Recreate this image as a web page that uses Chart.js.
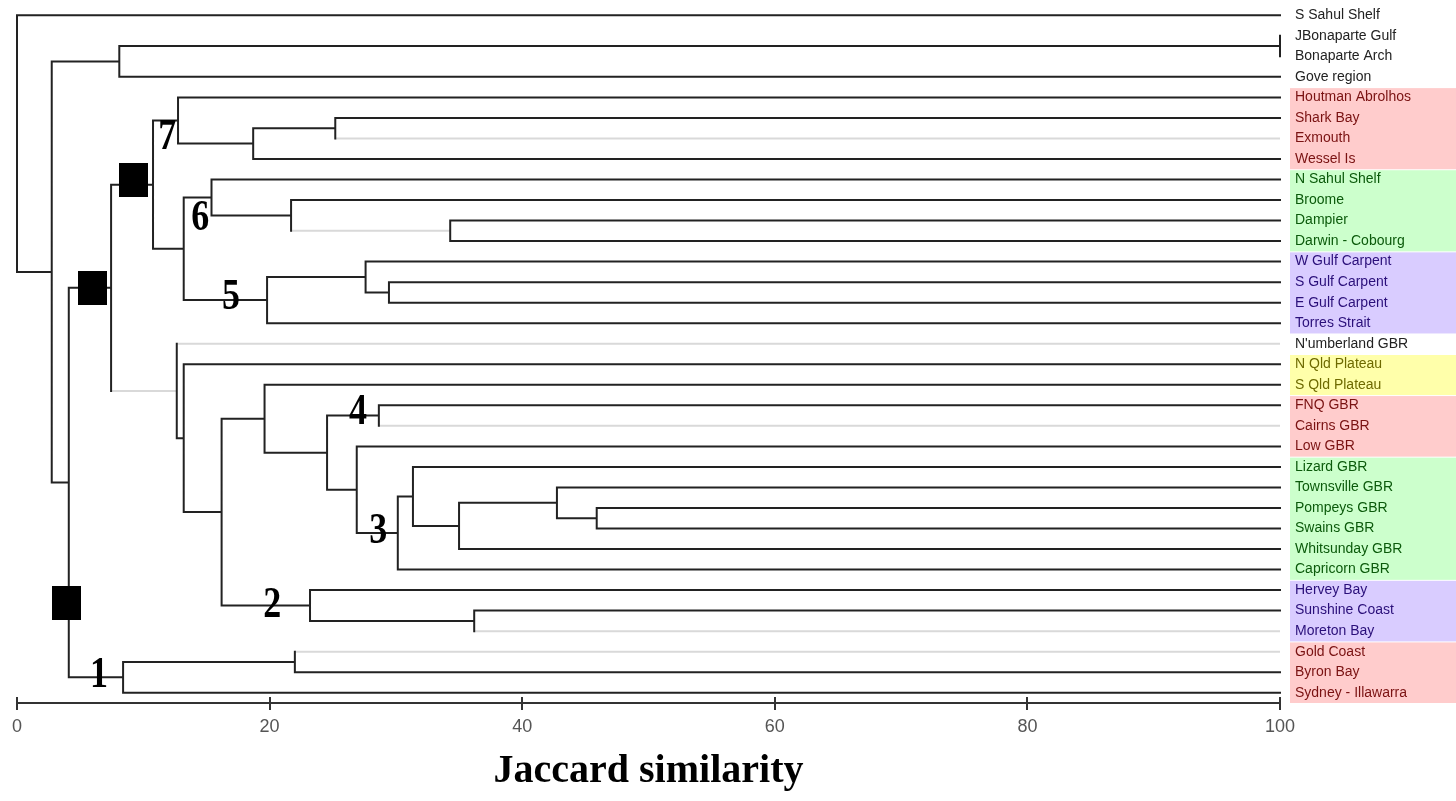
<!DOCTYPE html>
<html><head><meta charset="utf-8">
<script src="https://cdn.jsdelivr.net/npm/chart.js@4.4.1/dist/chart.umd.min.js"></script>
<style>html,body{margin:0;padding:0;background:#fff}#wrap{width:1456px;height:801px;position:relative}</style>
</head><body><div id="wrap"><canvas id="c"></canvas></div>
<script>
// ---------- DATA ----------
const leaves = ['S Sahul Shelf','JBonaparte Gulf','Bonaparte Arch','Gove region','Houtman Abrolhos','Shark Bay','Exmouth','Wessel Is','N Sahul Shelf','Broome','Dampier','Darwin - Cobourg','W Gulf Carpent','S Gulf Carpent','E Gulf Carpent','Torres Strait',"N'umberland GBR",'N Qld Plateau','S Qld Plateau','FNQ GBR','Cairns GBR','Low GBR','Lizard GBR','Townsville GBR','Pompeys GBR','Swains GBR','Whitsunday GBR','Capricorn GBR','Hervey Bay','Sunshine Coast','Moreton Bay','Gold Coast','Byron Bay','Sydney - Illawarra'];
const leafGroups = ['none','none','none','none','red','red','red','red','green','green','green','green','blue','blue','blue','blue','none','yellow','yellow','red','red','red','green','green','green','green','green','green','blue','blue','blue','red','red','red'];
// merges: [child A, child B, Jaccard similarity]; '#k' refers to merge k
const merges = [
 ['JBonaparte Gulf','Bonaparte Arch',100],
 ['#0','Gove region',8.1],
 ['Shark Bay','Exmouth',25.2],
 ['#2','Wessel Is',18.7],
 ['Houtman Abrolhos','#3',12.75],
 ['Dampier','Darwin - Cobourg',34.3],
 ['Broome','#5',21.7],
 ['N Sahul Shelf','#6',15.4],
 ['S Gulf Carpent','E Gulf Carpent',29.45],
 ['W Gulf Carpent','#8',27.6],
 ['#9','Torres Strait',19.8],
 ['#7','#10',13.2],
 ['#4','#11',10.77],
 ['FNQ GBR','Cairns GBR',28.65],
 ['Pompeys GBR','Swains GBR',45.9],
 ['Townsville GBR','#14',42.75],
 ['#15','Whitsunday GBR',35.0],
 ['Lizard GBR','#16',31.35],
 ['#17','Capricorn GBR',30.15],
 ['Low GBR','#18',26.9],
 ['#13','#19',24.55],
 ['S Qld Plateau','#20',19.6],
 ['Sunshine Coast','Moreton Bay',36.2],
 ['Hervey Bay','#22',23.2],
 ['#21','#23',16.2],
 ['N Qld Plateau','#24',13.2],
 ["N'umberland GBR",'#25',12.65],
 ['#12','#26',7.45],
 ['Gold Coast','Byron Bay',22.0],
 ['#28','Sydney - Illawarra',8.4],
 ['#27','#29',4.1],
 ['#1','#30',2.75],
 ['S Sahul Shelf','#31',0]
];
const grayLinks = ['Exmouth','#5',"N'umberland GBR",'#26','Cairns GBR','Moreton Bay','Gold Coast'];
const xTicks = [0,20,40,60,80,100];
const clusterLabels = ['1','2','3','4','5','6','7'];
const clusterLabelX = [6.5, 20.2, 28.6, 27.0, 16.95, 14.5, 11.9];
const clusterLabelY = [32.18, 28.78, 25.17, 19.38, 13.77, 9.9, 5.96];
const markerX = [9.22, 5.98, 3.92];
const markerY = [8.02, 13.29, 28.65];

// ---------- STYLE ----------
const groupText = {none:'#222', red:'#7a1212', green:'#0b5a0b', blue:'#2a0f7a', yellow:'#6e6a00'};
const groupBand = {red:'#ffcccc', green:'#ccffcc', blue:'#d9ccff', yellow:'#ffffaa'};

// ---------- BUILD SEGMENTS ----------
const nodePos = [];
function pos(ref){
  if (ref[0] === '#') return nodePos[+ref.slice(1)];
  return {x:100, y:leaves.indexOf(ref)};
}
const black = [], gray = [];
merges.forEach(([A,B,sim]) => {
  const a = pos(A), b = pos(B);
  black.push({x:sim,y:a.y},{x:sim,y:b.y},{x:null,y:null});
  [[A,a],[B,b]].forEach(([ref,p]) => {
    const arr = grayLinks.includes(ref) ? gray : black;
    arr.push({x:sim,y:p.y},{x:p.x,y:p.y},{x:null,y:null});
  });
  nodePos.push({x:sim, y:(a.y+b.y)/2});
});

const sq = document.createElement('canvas'); sq.width = 29; sq.height = 34;
const g = sq.getContext('2d'); g.fillStyle = '#000'; g.fillRect(0,0,29,34);

const bandPlugin = {
  id:'bands',
  beforeDraw(chart){
    const ys = chart.scales.y, ctx = chart.ctx;
    const left = chart.chartArea.right + 10, right = chart.width;
    let i = 0;
    while (i < leaves.length){
      let j = i;
      while (j+1 < leaves.length && leafGroups[j+1] === leafGroups[i]) j++;
      if (groupBand[leafGroups[i]]){
        const y0 = ys.getPixelForValue(i-0.5), y1 = ys.getPixelForValue(j+0.5);
        ctx.fillStyle = groupBand[leafGroups[i]];
        ctx.fillRect(left, y0+1, right-left, y1-y0-1);
      }
      i = j+1;
    }
  },
  afterDraw(chart){
    const xs = chart.scales.x, ctx = chart.ctx, b = chart.chartArea.bottom;
    ctx.save(); ctx.strokeStyle = '#333'; ctx.lineWidth = 2;
    xTicks.forEach(v => { const px = Math.round(xs.getPixelForValue(v)); ctx.beginPath(); ctx.moveTo(px, b-6); ctx.lineTo(px, b); ctx.stroke(); });
    ctx.restore();
  },
  afterDatasetsDraw(chart){
    const xs = chart.scales.x, ys = chart.scales.y, ctx = chart.ctx;
    ctx.save();
    ctx.fillStyle = '#000';
    ctx.font = 'bold 36px "Liberation Serif"';
    ctx.textAlign = 'center'; ctx.textBaseline = 'middle';
    clusterLabels.forEach((t,k) => {
      ctx.save();
      ctx.translate(xs.getPixelForValue(clusterLabelX[k]), ys.getPixelForValue(clusterLabelY[k]));
      ctx.scale(1, 1.22);
      ctx.fillText(t, 0, 0);
      ctx.restore();
    });
    ctx.restore();
  }
};

new Chart(document.getElementById('c'), {
  type:'scatter',
  data:{ datasets:[
    {data: markerX.map((x,i)=>({x, y:markerY[i]})), pointStyle: sq, pointRadius: 1, pointHoverRadius: 1, pointBorderWidth:0, order:1, clip:false},
    {data: black, showLine:true, borderColor:'#222', borderWidth:2, pointRadius:0, pointHitRadius:0, pointBorderWidth:0, borderCapStyle:'square', spanGaps:false, order:2, clip:false},
    {data: gray, showLine:true, borderColor:'#d9d9d9', borderWidth:2, pointRadius:0, pointHitRadius:0, pointBorderWidth:0, borderCapStyle:'butt', spanGaps:false, order:3, clip:false}
  ]},
  options:{
    responsive:true, maintainAspectRatio:false, animation:false, devicePixelRatio:1,
    layout:{padding:{left:17, top:5, right:0, bottom:0}},
    plugins:{legend:{display:false}, tooltip:{enabled:false}},
    scales:{
      x:{ type:'linear', min:0, max:100,
          afterBuildTicks: s => { s.ticks = xTicks.map(v => ({value:v})); },
          afterFit: s => { s.height = 98; s.paddingLeft = 0; s.paddingRight = 0; },
          grid:{ drawOnChartArea:false, drawTicks:true, tickLength:7, color:'#333', lineWidth:2 },
          border:{ display:true, color:'#333', width:2 },
          ticks:{ padding:6, color:'#555', maxRotation:0, font:{family:'Liberation Sans', size:18} },
          title:{ display:true, text:'Jaccard similarity', color:'#000', font:{family:'Liberation Serif', size:40, weight:'bold'}, padding:{top:0, bottom:5} } },
      y:{ type:'linear', position:'right', reverse:true, min:-0.5, max:33.5,
          afterBuildTicks: s => { s.ticks = leaves.map((_,i) => ({value:i})); },
          afterFit: s => { s.width = 176; s.paddingTop = 0; s.paddingBottom = 0; },
          grid:{ display:false, drawTicks:false }, border:{ display:false },
          ticks:{ autoSkip:false, padding:15,
                  color: c => groupText[leafGroups[c.index]] || '#222',
                  font:{family:'Liberation Sans', size:14},
                  callback: (v,i) => leaves[i] } }
    }
  },
  plugins:[bandPlugin]
});
</script>
</body></html>
